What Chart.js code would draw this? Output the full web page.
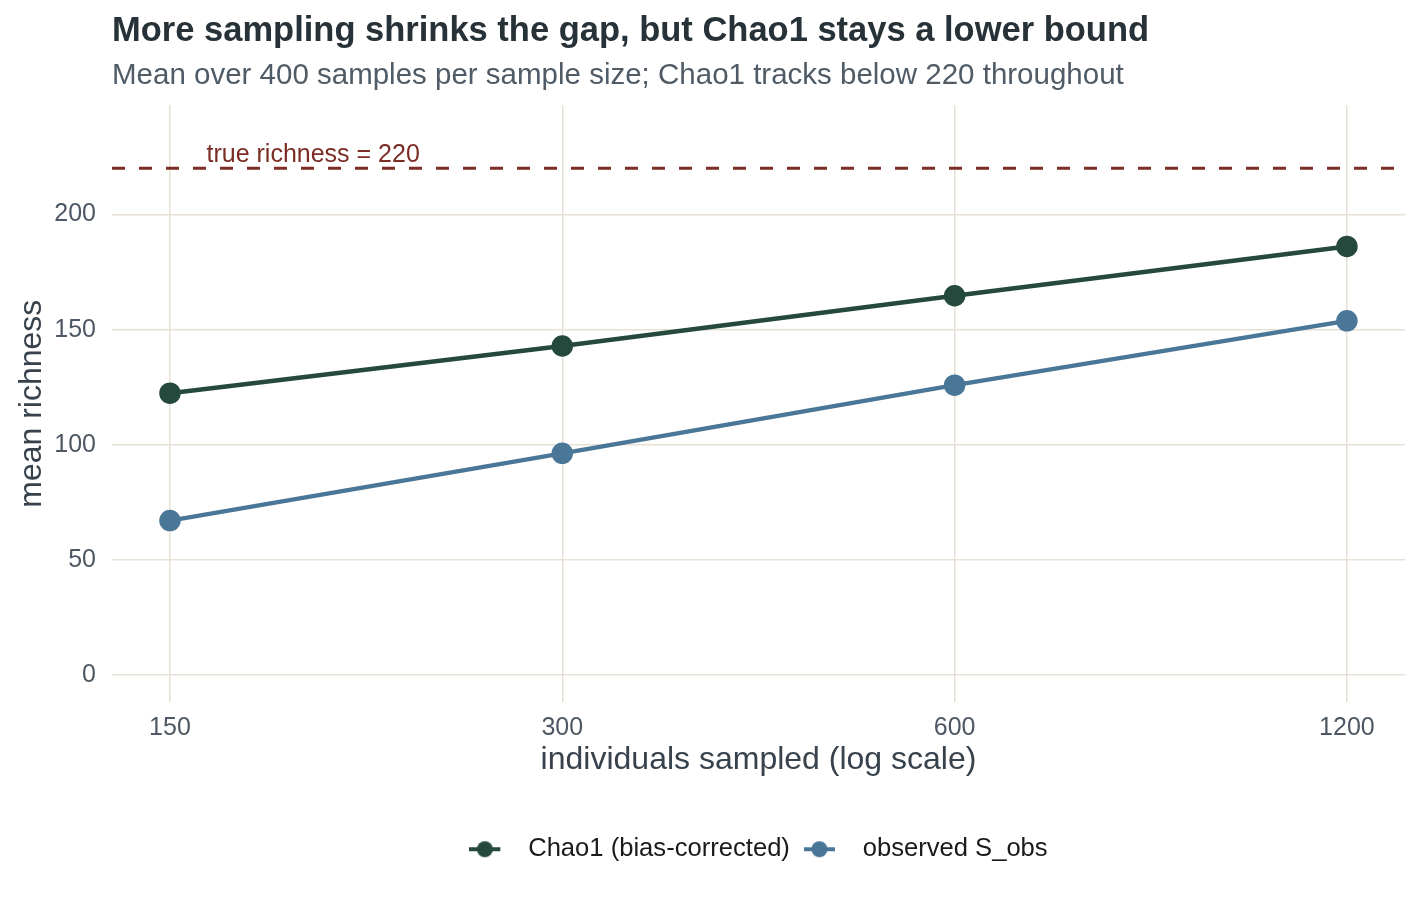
<!DOCTYPE html>
<html>
<head>
<meta charset="utf-8">
<script src="https://cdn.jsdelivr.net/npm/chart.js@4.4.1/dist/chart.umd.min.js"></script>
<style>
  html, body { margin: 0; padding: 0; background: #ffffff; }
  #wrap { width: 1420px; height: 902px; }
</style>
</head>
<body>
<div id="wrap"><canvas id="myChart" width="1420" height="902"></canvas></div>
<script>
// data
var sampleSizes = [150, 300, 600, 1200];
var chao1 = [122.4, 142.9, 164.7, 186.1];
var sObs = [67.1, 96.3, 125.9, 153.8];
var trueRichness = 220;
var xTicks = [150, 300, 600, 1200];
var yTicks = [0, 50, 100, 150, 200];

var FONT = "'Liberation Sans', Arial, Helvetica, sans-serif";
var green = '#254a3d';
var blue = '#4a7797';
var red = '#7b2c24';

// legend icon: short line with a dot on it (extra blank room on the right)
function legendIcon(color) {
  var c = document.createElement('canvas');
  c.width = 46; c.height = 20;
  var g = c.getContext('2d');
  g.strokeStyle = color;
  g.lineWidth = 4;
  g.beginPath(); g.moveTo(0, 10); g.lineTo(31, 10); g.stroke();
  g.fillStyle = color;
  g.beginPath(); g.arc(15.5, 10, 8, 0, Math.PI * 2); g.fill();
  return c;
}
var icons = [legendIcon(green), legendIcon(blue)];

// titles, reference line and its label; legend centred under the panel
var extras = {
  id: 'extras',
  afterLayout: function(chart) {
    if (chart.legend) chart.legend.left = chart.chartArea.left;
  },
  beforeDatasetsDraw: function(chart) {
    var ctx = chart.ctx, area = chart.chartArea;
    var x = chart.scales.x, y = chart.scales.y;
    var yy = y.getPixelForValue(trueRichness);
    ctx.save();
    ctx.strokeStyle = red;
    ctx.lineWidth = 3;
    ctx.setLineDash([13, 14]);
    ctx.beginPath(); ctx.moveTo(area.left, yy); ctx.lineTo(area.right, yy); ctx.stroke();
    ctx.setLineDash([]);
    ctx.fillStyle = red;
    ctx.font = '25px ' + FONT;
    ctx.textAlign = 'left';
    ctx.textBaseline = 'alphabetic';
    ctx.fillText('true richness = ' + trueRichness, x.getPixelForValue(160), yy - 6);
    ctx.restore();
  },
  afterDraw: function(chart) {
    var ctx = chart.ctx, area = chart.chartArea;
    ctx.save();
    ctx.textAlign = 'left';
    ctx.textBaseline = 'alphabetic';
    ctx.fillStyle = '#263238';
    ctx.font = 'bold 34.5px ' + FONT;
    ctx.fillText('More sampling shrinks the gap, but Chao1 stays a lower bound', area.left, 41);
    ctx.fillStyle = '#4f5b66';
    ctx.font = '29.5px ' + FONT;
    ctx.fillText('Mean over 400 samples per sample size; Chao1 tracks below 220 throughout', area.left, 84);
    ctx.restore();
  }
};

var ctx = document.getElementById('myChart').getContext('2d');
var myChart = new Chart(ctx, {
  type: 'line',
  data: {
    datasets: [{
      label: 'Chao1 (bias-corrected)',
      data: sampleSizes.map(function(v, i) { return {x: v, y: chao1[i]}; }),
      borderColor: green,
      backgroundColor: green,
      pointStyle: 'circle',
      borderWidth: 4.5,
      pointRadius: 8.5,
      pointHoverRadius: 8.5,
      tension: 0
    }, {
      label: 'observed S_obs',
      data: sampleSizes.map(function(v, i) { return {x: v, y: sObs[i]}; }),
      borderColor: blue,
      backgroundColor: blue,
      pointStyle: 'circle',
      borderWidth: 4.5,
      pointRadius: 8.5,
      pointHoverRadius: 8.5,
      tension: 0
    }]
  },
  options: {
    responsive: false,
    animation: false,
    layout: { padding: { top: 105, right: 15, left: 0, bottom: 30 } },
    plugins: {
      title: { display: false },
      tooltip: { enabled: false },
      legend: {
        position: 'bottom',
        labels: {
          usePointStyle: true,
          pointStyleWidth: 46,
          boxHeight: 20,
          padding: 14,
          color: '#1a1a1a',
          font: { family: FONT, size: 25.6 },
          generateLabels: function(chart) {
            return chart.data.datasets.map(function(ds, i) {
              return {
                text: ds.label,
                fillStyle: ds.backgroundColor,
                strokeStyle: ds.borderColor,
                lineWidth: 0,
                pointStyle: icons[i],
                fontColor: '#1a1a1a',
                datasetIndex: i
              };
            });
          }
        }
      }
    },
    scales: {
      x: {
        type: 'logarithmic',
        min: 135.4,
        max: 1329.7,
        afterBuildTicks: function(scale) {
          scale.ticks = xTicks.map(function(v) { return {value: v}; });
        },
        afterFit: function(scale) { scale.height = 120; },
        border: { display: false },
        grid: { color: '#e7e1d5', lineWidth: 1.5, drawTicks: false },
        ticks: {
          padding: 11,
          color: '#4d5864',
          font: { family: FONT, size: 25 },
          maxRotation: 0,
          autoSkip: false,
          callback: function(v) { return String(v); }
        },
        title: {
          display: true,
          text: 'individuals sampled (log scale)',
          color: '#37424c',
          font: { family: FONT, size: 32 },
          padding: { top: 0, bottom: 43 }
        }
      },
      y: {
        min: -11.8,
        max: 247.5,
        afterBuildTicks: function(scale) {
          scale.ticks = yTicks.map(function(v) { return {value: v}; });
        },
        afterFit: function(scale) { scale.width = 112; },
        border: { display: false },
        grid: { color: '#e7e1d5', lineWidth: 1.5, drawTicks: false },
        ticks: {
          padding: 16,
          color: '#4d5864',
          font: { family: FONT, size: 25 },
          callback: function(v) { return String(v); }
        },
        title: {
          display: true,
          text: 'mean richness',
          color: '#37424c',
          font: { family: FONT, size: 32 },
          padding: { top: 13, bottom: 0 }
        }
      }
    }
  },
  plugins: [extras]
});
</script>
</body>
</html>
